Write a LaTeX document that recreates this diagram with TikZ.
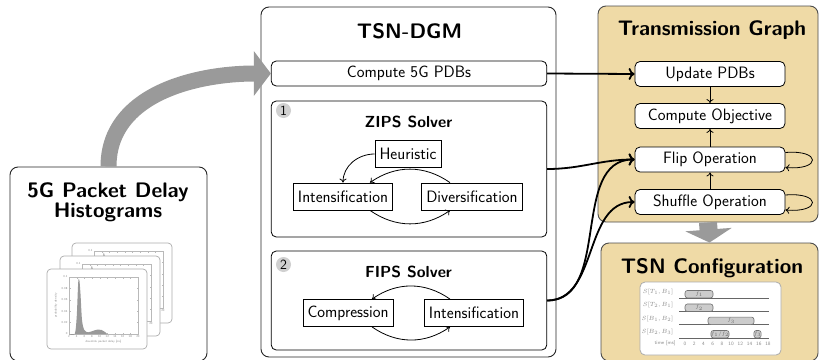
\documentclass[tikz,border=0pt]{standalone}
\usepackage{fontspec}
\usetikzlibrary{arrows.meta}
\definecolor{tgfill}{RGB}{239,218,166}
\definecolor{arrgray}{RGB}{154,154,154}
\definecolor{numgray}{RGB}{208,208,208}
\definecolor{txtgray}{RGB}{140,140,140}
\begin{document}
\begin{tikzpicture}[x=1pt,y=-1pt,
  outer/.style={draw=black!85,line width=0.9pt,rounded corners=8pt,inner sep=0pt},
  rbox/.style={draw=black,line width=0.8pt,rounded corners=5pt,fill=white,inner sep=0pt,font=\fontsize{16.5}{19}\selectfont\sffamily},
  sbox/.style={draw=black,line width=0.8pt,fill=white,inner xsep=4.5pt,inner ysep=0pt,minimum height=27pt,font=\fontsize{16.5}{19}\selectfont\sffamily},
  ttl/.style={font=\fontsize{21}{20}\selectfont\sffamily\bfseries,align=center},
  sttl/.style={font=\fontsize{16}{19}\selectfont\sffamily\bfseries},
  numc/.style={circle,fill=numgray,inner sep=0pt,minimum size=15pt,font=\fontsize{14}{14}\selectfont\sffamily},
  conn/.style={line width=1.8pt,-{To[length=6pt,width=12pt]}},
  lnk/.style={line width=0.8pt,-{To[length=4pt,width=7pt]}},
  bigarrow/.style={draw=arrgray,line width=16pt,-{Triangle[length=17pt,width=44pt]}},
  gryarrow/.style={draw=arrgray,line width=18pt,-{Triangle[length=13pt,width=46pt]}},
  card/.style={draw=gray!65,fill=white,line width=0.7pt,rounded corners=4pt},
  tiny/.style={font=\fontsize{3}{3.5}\selectfont\sffamily,text=txtgray,inner sep=0.4pt},
  rlab/.style={font=\fontsize{6}{7}\selectfont,text=txtgray,inner sep=0.5pt},
  tlab/.style={font=\fontsize{5}{6}\selectfont\sffamily,text=txtgray,inner sep=0.5pt},
  bar/.style={draw=black!55,fill=gray!40,rounded corners=2.5pt,line width=0.6pt,inner sep=0pt,font=\fontsize{5}{5}\selectfont,text=black!60}
]
\useasboundingbox (0,0) rectangle (819,359);

% ---------- left box ----------
\node[outer,minimum width=197pt,minimum height=194pt] (hist) at (108.5,264) {};
\node[ttl] (histt) at (108,202) {5G Packet Delay\\Histograms};

\foreach \cx/\cy/\i in {72/243/3,60/256/2,47/269/1}{
\begin{scope}[shift={(\cx,\cy)}]
  \draw[card] (0,0) rectangle (100,80);
  \draw[gray!55,line width=0.4pt] (22,8) rectangle (91,65);
  \foreach \t in {0,...,9}{
    \draw[gray!55,line width=0.3pt] (22+\t*7.667,8) -- ++(0,1.5);
    \draw[gray!55,line width=0.3pt] (22+\t*7.667,65) -- ++(0,-1.5);
  }
  \foreach \k in {0,...,5}{
    \draw[gray!55,line width=0.3pt] (22,65-\k*11.4) -- ++(1.5,0);
    \draw[gray!55,line width=0.3pt] (91,65-\k*11.4) -- ++(-1.5,0);
  }
  \fill[gray!80] plot[smooth,tension=0.5] coordinates {(22,65) (27.7,65) (29.7,48) (31.2,13.7) (32.35,11) (33.5,25) (35,51) (37.3,61) (41.2,63.3) (47,61.5) (50.8,60.5) (54.6,61) (57.6,62.7) (60.3,65)} -- cycle;
  \foreach \v/\k in {0/0,0.02/1,0.04/2,0.06/3,0.08/4,0.1/5}
    \node[tiny,anchor=east] (c\i y\k) at (21,65-\k*11.4) {\v};
  \foreach \m in {2,4,...,20}
    \node[tiny,anchor=north] (c\i x\m) at (22+\m*3.833-7.667,66) {\m};
  \node[tiny] (c\i xl) at (56.5,73) {downlink packet delay [ms]};
  \node[tiny,rotate=90] (c\i yl) at (9,36.5) {probability density};
\end{scope}
}

% ---------- TSN-DGM ----------
\node[outer,minimum width=295pt,minimum height=350pt] (dgm) at (408.5,182) {};
\node[ttl] (dgmt) at (409.5,31) {TSN-DGM};
\node[rbox,minimum width=275.5pt,minimum height=25pt] (pdb) at (409,73.5) {Compute 5G PDBs};

\node[rbox,minimum width=275.5pt,minimum height=136pt] (zips) at (409,169) {};
\node[numc] (n1) at (283.5,110.5) {1};
\node[sttl] (zipst) at (408.5,122) {ZIPS Solver};
\node[sbox] (heur) at (408,154) {Heuristic};
\node[sbox] (int1) at (343,196.5) {Intensification};
\node[sbox] (div) at (472,196.5) {Diversification};
\draw[lnk] (heur.west) to[out=180,in=90] (int1.north);
\draw[lnk] ([xshift=-22pt]div.north) to[bend right=35] ([xshift=27pt]int1.north);
\draw[lnk] ([xshift=27pt]int1.south) to[bend right=35] ([xshift=-22pt]div.south);

\node[rbox,minimum width=275.5pt,minimum height=99pt] (fips) at (409,300.5) {};
\node[numc] (n2) at (283.5,264.5) {2};
\node[sttl] (fipst) at (408.5,272) {FIPS Solver};
\node[sbox] (comp) at (348,313) {Compression};
\node[sbox] (int2) at (474,313) {Intensification};
\draw[lnk] ([xshift=-24pt]int2.north) to[bend right=35] ([xshift=24pt]comp.north);
\draw[lnk] ([xshift=24pt]comp.south) to[bend right=35] ([xshift=-24pt]int2.south);

% ---------- Transmission Graph ----------
\node[outer,fill=tgfill,draw=black!70,minimum width=220pt,minimum height=216pt] (tg) at (708,114) {};
\node[ttl] (tgt) at (712,30) {Transmission Graph};
\node[rbox,minimum width=150pt,minimum height=25pt] (upd) at (710,74) {Update PDBs};
\node[rbox,minimum width=150pt,minimum height=25pt] (cobj) at (710,116) {Compute Objective};
\node[rbox,minimum width=150pt,minimum height=25pt] (flip) at (710,159.5) {Flip Operation};
\node[rbox,minimum width=150pt,minimum height=25pt] (shuf) at (710,202) {Shuffle Operation};
\draw[lnk] (upd.south) -- (cobj.north);
\draw[lnk] (flip.north) -- (cobj.south);
\draw[lnk] (shuf.north) -- (flip.south);
\draw[lnk] ([yshift=7pt]flip.east) .. controls +(36,-3) and +(36,3) .. ([yshift=-8pt]flip.east);
\draw[lnk] ([yshift=7pt]shuf.east) .. controls +(36,-3) and +(36,3) .. ([yshift=-8pt]shuf.east);

% ---------- TSN Configuration ----------
\node[outer,fill=tgfill,draw=black!70,minimum width=217pt,minimum height=118pt] (tsnc) at (709.5,302) {};
\node[ttl] (tsnt) at (712,268) {TSN Configuration};
\draw[gray!65,line width=0.8pt,fill=white,rounded corners=5pt] (640,282) rectangle (781,355);
\node[rlab,anchor=east] (r1) at (674,291.5) {$S[T_1,B_1]$};
\node[rlab,anchor=east] (r2) at (674,305) {$S[T_2,B_1]$};
\node[rlab,anchor=east] (r3) at (674,318.5) {$S[B_1,B_2]$};
\node[rlab,anchor=east] (r4) at (674,331.5) {$S[B_2,B_3]$};
\foreach \y in {298,311.5,324.5,338}
  \draw[black!60,line width=0.7pt] (679,\y) -- (769,\y);
\node[bar,minimum width=28pt,minimum height=7.5pt] (b1) at (699,294.2) {$f_1$};
\node[bar,minimum width=28pt,minimum height=7.5pt] (b2) at (699,307.7) {$f_2$};
\node[bar,minimum width=46pt,minimum height=7.5pt] (b3) at (731,320.8) {$f_3$};
\node[bar,minimum width=14pt,minimum height=7.5pt] (b4) at (720,334.2) {$f_1/f_2$};
\node[bar,minimum width=7pt,minimum height=7.5pt] (b5) at (757.5,334.2) {$f_3$};
\node[tlab] (tm) at (665,343.5) {time [ms]};
\foreach \t in {0,2,...,18}
  \node[tlab] (tk\t) at (685+\t*4.61,343.5) {\t};

% ---------- connectors ----------
\draw[bigarrow] (hist.north) to[out=90,in=180] (pdb.west);
\draw[gryarrow] (tg.south) -- (tsnc.north);
\draw[conn] (pdb.east) -- (upd.west);
\draw[conn] (zips.east) to[out=0,in=180] (flip.west);
\draw[conn] (fips.east) to[out=0,in=180] (flip.west);
\draw[conn] (fips.east) to[out=0,in=180] (shuf.west);
\end{tikzpicture}
\end{document}
